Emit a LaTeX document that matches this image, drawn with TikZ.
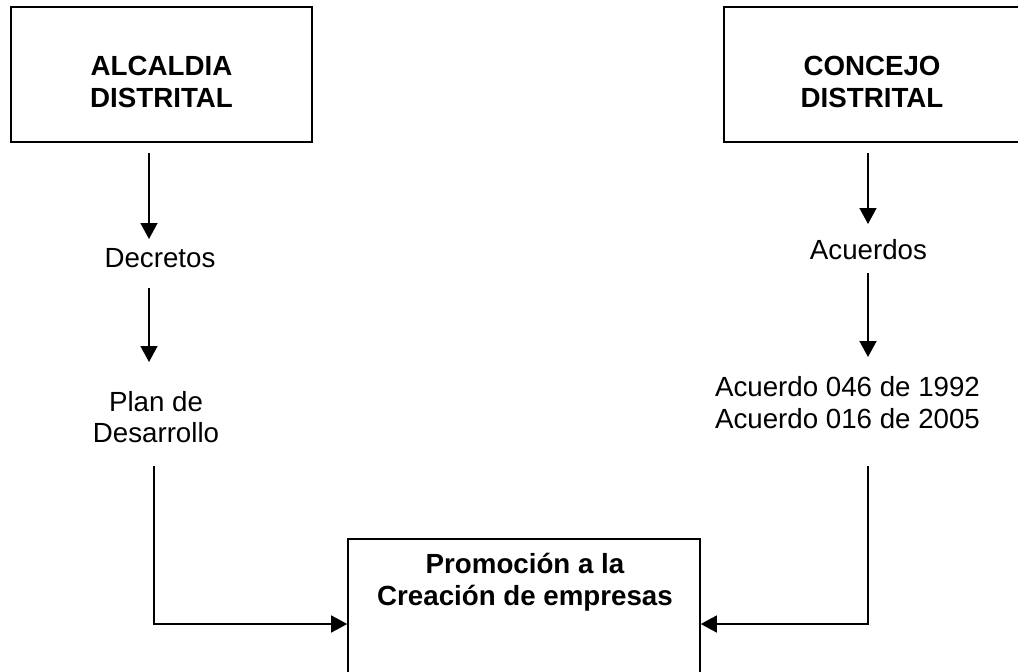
\documentclass[tikz,border=0pt]{standalone}
\usepackage{fontspec}
\setmainfont{Liberation Sans}
\usetikzlibrary{arrows.meta}
\tikzset{
  boxnode/.style={draw=black, line width=1.6pt, inner sep=0pt, fill=none},
  txt/.style={inner sep=0pt, align=center, font=\fontsize{27.7}{31.5}\selectfont},
  btxt/.style={txt, font=\fontsize{27.7}{32}\selectfont\bfseries},
  arr/.style={line width=1.5pt, -{Triangle[length=16pt,width=17pt]}},
}
\begin{document}
\begin{tikzpicture}[x=1pt,y=-1pt]
\useasboundingbox (0,0) rectangle (1018,672);
% boxes
\node[boxnode, minimum width=301pt, minimum height=135pt] (alc) at (161.5,74.5) {};
\node[boxnode, minimum width=301pt, minimum height=135pt] (con) at (874.5,74.5) {};
\node[boxnode, minimum width=352pt, minimum height=170pt] (prom) at (524,624) {};
% texts
\node[btxt] (alct) at (161.5,82) {ALCALDIA\\DISTRITAL};
\node[btxt] (cont) at (872,82) {CONCEJO\\DISTRITAL};
\node[btxt] (promt) at (525,582) {Promoción a la\\Creación de empresas};
\node[txt] (dec) at (160,258.5) {Decretos};
\node[txt] (plan) at (156,417) {Plan de\\Desarrollo};
\node[txt] (acu) at (868.5,250) {Acuerdos};
\node[txt] (acus) at (847.5,402.5) {Acuerdo 046 de 1992\\Acuerdo 016 de 2005};
% free ends
\coordinate (l1s) at (149,153);
\coordinate (l1e) at (149,239);
\coordinate (l2s) at (149,288);
\coordinate (l2e) at (149,362);
\coordinate (l3s) at (154,466);
\coordinate (r1s) at (868,153);
\coordinate (r1e) at (868,224);
\coordinate (r2s) at (868,273);
\coordinate (r2e) at (868,357);
\coordinate (r3s) at (868,466);
% connectors
\draw[arr] (l1s) -- (l1e);
\draw[arr] (l2s) -- (l2e);
\draw[arr] (r1s) -- (r1e);
\draw[arr] (r2s) -- (r2e);
\draw[arr] (l3s) |- (prom.west);
\draw[arr] (r3s) |- (prom.east);
\end{tikzpicture}
\end{document}
